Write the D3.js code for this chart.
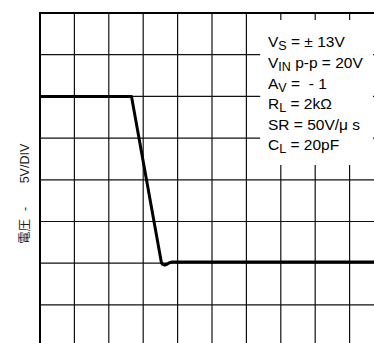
<!DOCTYPE html>
<html>
<head>
<meta charset="utf-8">
<script src="https://cdn.jsdelivr.net/npm/d3@7"></script>
<style>
  body { margin: 0; background: #fff; }
  svg { display: block; }
  text { font-family: "Liberation Sans", Arial, "Noto Sans CJK JP", sans-serif; fill: #000; white-space: pre; }
</style>
</head>
<body>
<svg id="chart" width="374" height="343"></svg>
<script>
// Output waveform: time in horizontal divisions, amplitude in volts (5 V/div)
const timeDiv = [0, 2.66, 3.53, 3.57, 3.62, 3.68, 3.76, 3.84, 10];
const volts   = [10, 10, -9.95, -10.15, -10.22, -10.15, -9.95, -9.85, -9.85];

// Graticule
const timeGrid = d3.range(0, 11);                       // 10 horizontal divisions
const voltGrid = [20, 15, 10, 5, 0, -5, -10, -15, -20]; // 8 vertical divisions

// Test conditions: [main, subscript, rest]
const condMain = ["V", "V", "A", "R", "SR = 50V/\u03BC s", "C"];
const condSub  = ["S", "IN", "V", "L", "", "L"];
const condRest = [" = \u00B1 13V", " p-p = 20V", " =  - 1", " = 2k\u03A9", "", " = 20pF"];

const yLabelParts = ["電圧", " -", " 5V/DIV"];

const svg = d3.select("#chart");
const plotLeft = 40, plotTop = 13, divW = 34.4, divH = 41.7;

const x = d3.scaleLinear().domain([0, 10]).range([plotLeft, plotLeft + 10 * divW]);
const y = d3.scaleLinear().domain([20, -20]).range([plotTop, plotTop + 8 * divH]);

// grid lines
const g = svg.append("g").attr("stroke", "#111").attr("stroke-width", 1.2);
g.selectAll("line.v").data(timeGrid.slice(1)).join("line")
  .attr("x1", d => x(d)).attr("x2", d => x(d))
  .attr("y1", y(20)).attr("y2", y(-20));
g.selectAll("line.h").data(voltGrid.slice(1)).join("line")
  .attr("x1", x(0)).attr("x2", x(10))
  .attr("y1", d => y(d)).attr("y2", d => y(d));

// clear area behind the test-condition block
const area = { t0: 6.4, t1: 9.68, v0: 19.16, v1: 1.77 };
svg.append("rect")
  .attr("x", x(area.t0)).attr("y", y(area.v0))
  .attr("width", x(area.t1) - x(area.t0))
  .attr("height", y(area.v1) - y(area.v0))
  .attr("fill", "#fff");

// frame (left and top edges are heavier)
svg.append("line").attr("x1", x(0)).attr("x2", x(0)).attr("y1", y(20) - 1).attr("y2", y(-20))
  .attr("stroke", "#000").attr("stroke-width", 2);
svg.append("line").attr("x1", x(0) - 1).attr("x2", x(10)).attr("y1", y(20)).attr("y2", y(20))
  .attr("stroke", "#000").attr("stroke-width", 2);

// waveform
const line = d3.line()
  .x((d, i) => x(timeDiv[i]))
  .y(d => y(d));
svg.append("path")
  .attr("d", line(volts))
  .attr("fill", "none")
  .attr("stroke", "#000")
  .attr("stroke-width", 3)
  .attr("stroke-linejoin", "round");

// test conditions
const cond = svg.append("g").attr("font-size", 15.5);
condMain.forEach((m, i) => {
  const t = cond.append("text").attr("x", 268).attr("y", 47.3 + i * 20.6);
  t.append("tspan").text(m);
  if (condSub[i]) t.append("tspan").attr("font-size", 12.5).attr("dy", 3).text(condSub[i]);
  if (condRest[i]) t.append("tspan").attr("font-size", 15.5).attr("dy", condSub[i] ? -3 : 0)
    .text(condRest[i]);
});

// vertical axis label
const yl = svg.append("text")
  .attr("transform", "translate(29,244) rotate(-90)")
  .attr("font-size", 12.5)
  .style("fill", "#222");
yl.append("tspan").text(yLabelParts[0]);
yl.append("tspan").attr("dx", 4.5).text(yLabelParts[1]);
yl.append("tspan").attr("dx", 20).text(yLabelParts[2]);
</script>
</body>
</html>
